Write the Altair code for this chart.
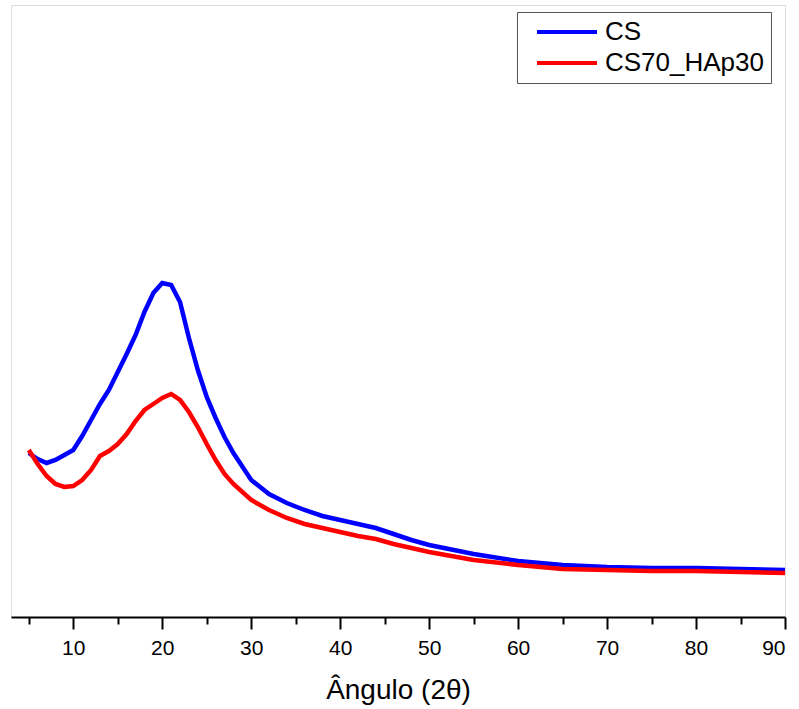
import altair as alt
import pandas as pd

# 2-theta angle (degrees)
angle = [5, 6, 7, 8, 9, 10, 11, 12, 13, 14, 15, 16, 17, 18, 19, 20, 21, 22, 23, 24,
         25, 26, 27, 28, 30, 32, 34, 36, 38, 40, 42, 44, 46, 48, 50, 55, 60, 65, 70,
         75, 80, 85, 90]

# intensity (a.u.)
cs = [164, 158, 154, 157, 162, 167, 181, 197, 213, 227, 245, 263, 282, 305, 324, 334,
      332, 315, 279, 247, 220, 199, 180, 164, 137, 123, 114, 107, 101, 97, 93, 89, 83,
      77, 72, 63, 56, 52, 50, 49, 49, 48, 47]
cs70_hap30 = [167, 153, 141, 133, 130, 131, 137, 147, 161, 166, 173, 183, 196, 207, 213,
              219, 223, 217, 205, 190, 173, 157, 143, 133, 117, 107, 99, 93, 89, 85, 81,
              78, 73, 69, 65, 57, 52, 48, 47, 46, 46, 45, 44]

series_names = ["CS", "CS70_HAp30"]
series_colors = ["#0000FF", "#FF0000"]
x_tick_values = list(range(5, 91, 5))

rows = []
for name, vals in zip(series_names, [cs, cs70_hap30]):
    for a, v in zip(angle, vals):
        rows.append({"angle": a, "intensity": v, "series": name})
df = pd.DataFrame(rows)

chart = alt.Chart(df).mark_line(strokeWidth=4.5).encode(
    x=alt.X(
        "angle:Q",
        scale=alt.Scale(domain=[3, 90], nice=False, zero=False),
        axis=alt.Axis(
            title="Ângulo (2θ)",
            values=x_tick_values,
            labelExpr="datum.value % 10 === 0 ? datum.label : ''",
            tickSize=alt.condition("datum.value % 10 === 0", alt.value(12), alt.value(7)),
            tickWidth=2,
            tickColor="black",
            domainColor="black",
            domainWidth=2,
            grid=False,
            labelFont="Liberation Sans",
            labelFontSize=21,
            labelColor="black",
            labelPadding=8,
            titleFont="Liberation Sans",
            titleFontSize=28,
            titleFontWeight="normal",
            titleColor="black",
            titlePadding=18,
        ),
    ),
    y=alt.Y(
        "intensity:Q",
        scale=alt.Scale(domain=[0, 612], nice=False, zero=False),
        axis=None,
    ),
    color=alt.Color(
        "series:N",
        scale=alt.Scale(domain=series_names, range=series_colors),
        legend=alt.Legend(
            title=None,
            orient="none",
            legendX=506,
            legendY=7,
            padding=7,
            strokeColor="#555555",
            fillColor="white",
            labelFont="Liberation Sans",
            labelFontSize=26,
            labelColor="black",
            symbolType="M0,0H6",
            symbolSize=400,
            symbolStrokeWidth=4,
            labelOffset=55,
            rowPadding=5,
        ),
    ),
    order=alt.Order("angle:Q"),
).properties(
    width=774,
    height=612,
    autosize=alt.AutoSizeParams(type="none"),
    padding={"left": 11, "top": 5, "right": 14, "bottom": 92},
).configure_view(stroke=None).configure(background="white")

chart.save("out.html", embed_options={"renderer": "svg", "actions": False})
